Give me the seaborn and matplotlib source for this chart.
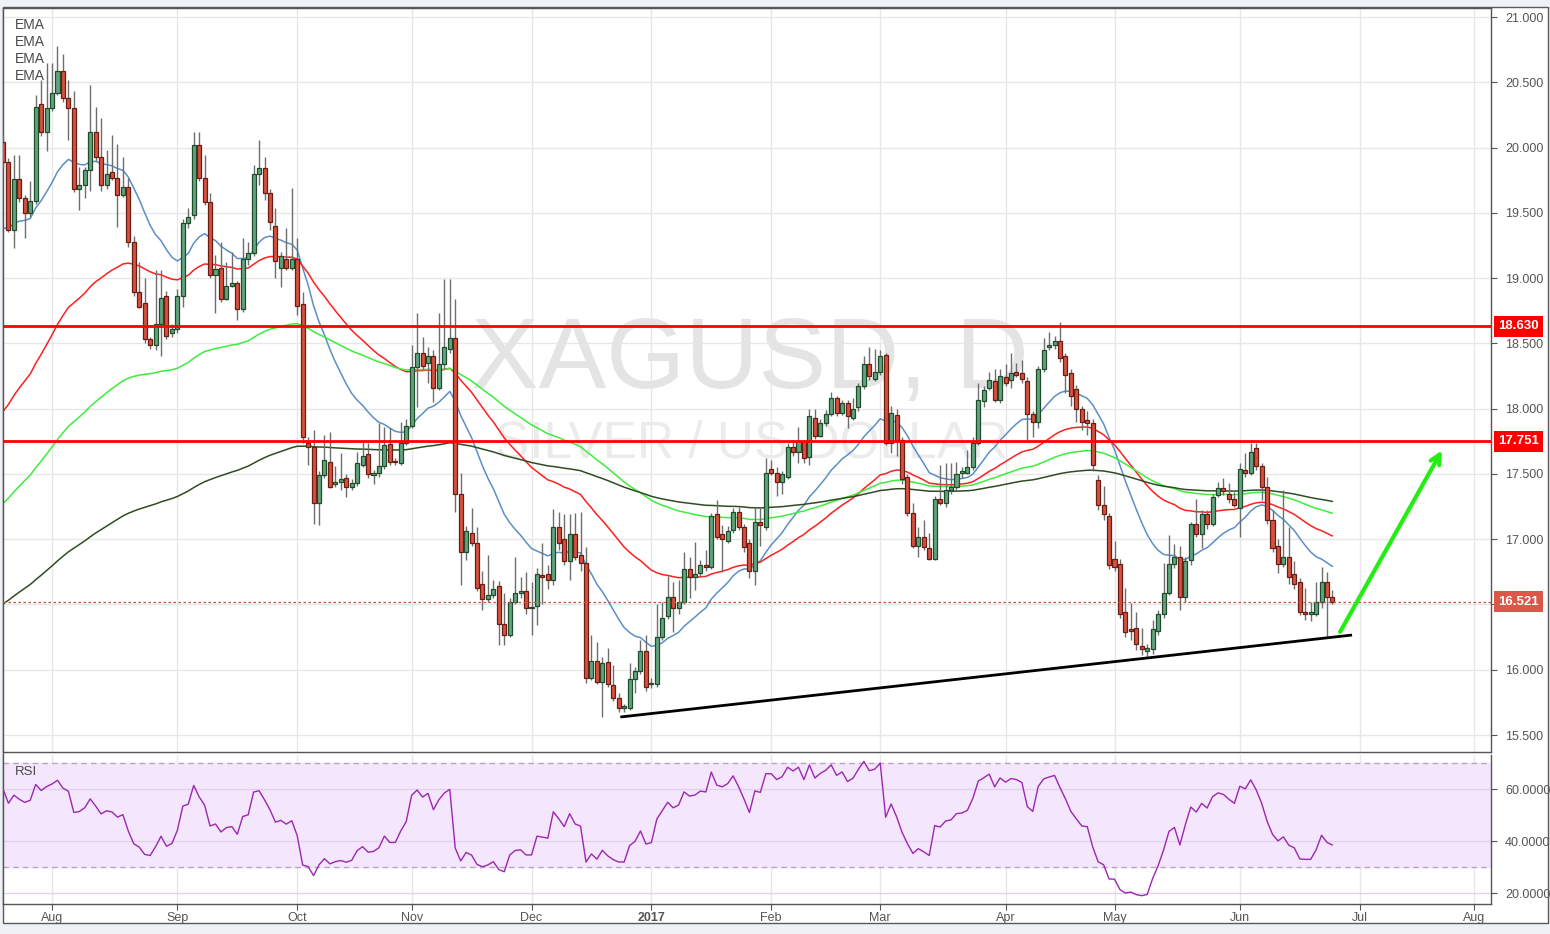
import numpy as np
import pandas as pd
import matplotlib
matplotlib.use('Agg')
import matplotlib.pyplot as plt
import matplotlib.transforms as mtrans
from matplotlib.patches import Rectangle
import seaborn as sns

# daily XAG/USD candles, 2016-07-19 .. 2017-06-26 (weekdays)
opens = [20.04, 19.89, 19.37, 19.76, 19.61, 19.50, 19.59, 20.33, 20.12, 20.30,
         20.42, 20.59, 20.38, 20.30, 19.68, 19.71, 19.83, 20.12, 19.93, 19.71,
         19.81, 19.77, 19.64, 19.70, 19.28, 18.89, 18.81, 18.53, 18.49, 18.65,
         18.86, 18.58, 18.61, 18.86, 19.42, 19.48, 20.02, 19.77, 19.58, 19.02,
         19.08, 18.84, 18.94, 18.96, 18.76, 19.15, 19.19, 19.80, 19.84, 19.65,
         19.40, 19.08, 19.15, 19.08, 19.15, 18.80, 17.74, 17.71, 17.28, 17.49,
         17.59, 17.42, 17.44, 17.47, 17.40, 17.43, 17.57, 17.65, 17.49, 17.51,
         17.56, 17.73, 17.60, 17.58, 17.74, 17.87, 18.32, 18.43, 18.35, 18.40,
         18.16, 18.34, 18.46, 18.54, 17.35, 16.90, 17.05, 16.97, 16.66, 16.54,
         16.57, 16.64, 16.35, 16.27, 16.52, 16.59, 16.60, 16.47, 16.49, 16.72,
         16.73, 16.69, 17.09, 17.00, 16.83, 17.04, 16.88, 16.82, 15.94, 16.07,
         15.91, 16.06, 15.88, 15.78, 15.71, 15.71, 15.93, 15.99, 16.14, 15.89,
         15.89, 16.25, 16.41, 16.56, 16.47, 16.52, 16.77, 16.71, 16.74, 16.80,
         16.79, 17.19, 17.04, 16.99, 17.07, 17.21, 17.09, 16.97, 16.76, 17.13,
         17.09, 17.54, 17.51, 17.44, 17.48, 17.71, 17.67, 17.75, 17.63, 17.93,
         17.79, 17.89, 17.96, 18.08, 17.97, 18.04, 17.93, 18.01, 18.17, 18.34,
         18.23, 18.28, 18.41, 17.74, 17.95, 17.76, 17.48, 17.20, 16.95, 17.02,
         16.93, 16.85, 17.31, 17.28, 17.38, 17.40, 17.51, 17.51, 17.55, 17.74,
         18.06, 18.16, 18.21, 18.07, 18.24, 18.22, 18.28, 18.27, 18.21, 17.96,
         17.90, 18.30, 18.47, 18.49, 18.52, 18.40, 18.27, 18.15, 18.00, 17.91,
         17.89, 17.45, 17.26, 17.18, 16.85, 16.81, 16.44, 16.31, 16.32, 16.18,
         16.14, 16.16, 16.30, 16.43, 16.59, 16.81, 16.86, 16.56, 16.84, 17.12,
         17.04, 17.19, 17.12, 17.34, 17.39, 17.35, 17.31, 17.24, 17.53, 17.51,
         17.70, 17.56, 17.40, 17.15, 16.95, 16.81, 16.86, 16.73, 16.67, 16.44,
         16.43, 16.43, 16.52, 16.67, 16.56]
highs = [20.10, 19.92, 19.94, 19.94, 19.64, 19.74, 20.40, 20.52, 20.65, 20.65,
         20.78, 20.72, 20.52, 20.43, 19.85, 19.85, 20.48, 20.31, 20.23, 19.98,
         20.10, 20.03, 19.93, 19.77, 19.32, 19.12, 19.00, 18.55, 19.06, 19.06,
         18.90, 18.65, 18.92, 19.45, 19.54, 20.12, 20.12, 19.94, 19.65, 19.18,
         19.28, 19.12, 19.20, 18.98, 19.31, 19.28, 19.87, 20.06, 19.93, 19.68,
         19.54, 19.20, 19.38, 19.69, 19.31, 18.89, 17.78, 17.84, 17.52, 17.80,
         17.82, 17.56, 17.66, 17.50, 17.46, 17.67, 17.76, 17.74, 17.53, 17.89,
         17.86, 17.85, 17.62, 17.90, 17.92, 18.49, 18.73, 18.55, 18.47, 18.45,
         18.73, 18.99, 18.99, 18.84, 17.51, 17.10, 17.24, 17.09, 16.76, 16.88,
         16.69, 16.68, 16.59, 16.55, 16.86, 16.71, 16.75, 16.67, 16.78, 16.97,
         16.80, 17.23, 17.21, 17.19, 17.19, 17.20, 17.21, 16.94, 16.27, 16.21,
         16.10, 16.17, 16.04, 15.82, 15.74, 16.05, 16.02, 16.23, 16.27, 15.94,
         16.50, 16.52, 16.72, 16.67, 16.69, 16.90, 16.86, 16.98, 16.84, 16.92,
         17.20, 17.30, 17.11, 17.10, 17.24, 17.25, 17.12, 17.00, 17.25, 17.25,
         17.62, 17.61, 17.55, 17.52, 17.74, 17.76, 17.86, 17.76, 18.00, 18.00,
         17.92, 17.99, 18.13, 18.10, 18.07, 18.07, 18.08, 18.20, 18.40, 18.47,
         18.46, 18.45, 18.43, 18.02, 18.00, 17.78, 17.50, 17.28, 17.09, 17.15,
         17.05, 17.33, 17.57, 17.58, 17.58, 17.59, 17.55, 17.68, 17.78, 18.20,
         18.17, 18.28, 18.30, 18.30, 18.34, 18.43, 18.35, 18.37, 18.24, 17.98,
         18.33, 18.54, 18.59, 18.56, 18.66, 18.43, 18.30, 18.18, 18.02, 17.98,
         17.92, 17.49, 17.41, 17.20, 16.99, 16.85, 16.63, 16.51, 16.44, 16.32,
         16.20, 16.38, 16.46, 16.82, 17.03, 16.96, 16.95, 16.86, 17.13, 17.31,
         17.22, 17.22, 17.35, 17.44, 17.47, 17.43, 17.36, 17.58, 17.66, 17.74,
         17.74, 17.58, 17.48, 17.22, 17.00, 17.38, 17.09, 16.83, 16.70, 16.63,
         16.52, 16.67, 16.79, 16.75, 16.61]
lows = [19.85, 19.35, 19.23, 19.58, 19.31, 19.47, 19.57, 20.09, 19.97, 20.28,
        20.40, 20.35, 20.06, 19.66, 19.52, 19.61, 19.67, 19.90, 19.67, 19.68,
        19.75, 19.39, 19.62, 19.24, 18.86, 18.77, 18.50, 18.46, 18.45, 18.40,
        18.53, 18.55, 18.58, 18.78, 19.38, 19.45, 19.74, 19.56, 19.00, 18.73,
        18.82, 18.83, 18.93, 18.68, 18.74, 19.10, 19.17, 19.71, 19.60, 19.37,
        19.00, 18.93, 19.06, 19.06, 18.72, 17.74, 17.57, 17.12, 17.11, 17.47,
        17.39, 17.40, 17.38, 17.32, 17.38, 17.41, 17.55, 17.47, 17.42, 17.48,
        17.54, 17.57, 17.57, 17.57, 17.72, 17.85, 18.01, 18.30, 18.20, 18.05,
        18.14, 18.30, 18.43, 17.21, 16.65, 16.84, 16.95, 16.60, 16.46, 16.52,
        16.55, 16.19, 16.19, 16.25, 16.50, 16.55, 16.43, 16.27, 16.34, 16.50,
        16.62, 16.65, 16.92, 16.80, 16.69, 16.84, 16.76, 15.90, 15.92, 15.89,
        15.64, 15.87, 15.76, 15.68, 15.68, 15.69, 15.82, 15.97, 15.84, 15.86,
        15.87, 16.23, 16.39, 16.29, 16.43, 16.50, 16.55, 16.61, 16.72, 16.76,
        16.77, 17.00, 16.75, 16.97, 17.05, 17.07, 16.90, 16.70, 16.65, 16.95,
        17.07, 17.49, 17.33, 17.35, 17.46, 17.64, 17.58, 17.58, 17.57, 17.77,
        17.78, 17.87, 17.94, 17.94, 17.95, 17.85, 17.91, 17.98, 18.15, 18.22,
        18.21, 18.26, 17.72, 17.66, 17.64, 17.42, 17.18, 16.93, 16.86, 16.92,
        16.84, 16.84, 17.26, 17.25, 17.35, 17.38, 17.47, 17.50, 17.53, 17.72,
        18.01, 18.14, 18.05, 18.04, 18.17, 18.16, 18.24, 18.20, 17.76, 17.78,
        17.85, 18.28, 18.45, 18.46, 18.36, 18.12, 18.02, 17.90, 17.84, 17.80,
        17.52, 17.22, 17.15, 16.77, 16.76, 16.40, 16.25, 16.23, 16.15, 16.11,
        16.09, 16.12, 16.27, 16.40, 16.57, 16.78, 16.46, 16.52, 16.80, 17.02,
        16.93, 17.08, 17.10, 17.32, 17.34, 17.28, 17.25, 17.02, 17.48, 17.49,
        17.53, 17.30, 17.12, 16.90, 16.74, 16.79, 16.66, 16.62, 16.42, 16.38,
        16.37, 16.41, 16.47, 16.25, 16.50]
closes = [19.89, 19.37, 19.76, 19.61, 19.50, 19.59, 20.31, 20.12, 20.30, 20.42,
          20.59, 20.38, 20.30, 19.68, 19.71, 19.83, 20.12, 19.93, 19.71, 19.80,
          19.77, 19.64, 19.70, 19.28, 18.89, 18.78, 18.53, 18.49, 18.65, 18.85,
          18.56, 18.61, 18.86, 19.42, 19.47, 20.02, 19.77, 19.58, 19.02, 19.07,
          18.84, 18.94, 18.96, 18.76, 19.15, 19.19, 19.80, 19.84, 19.65, 19.43,
          19.13, 19.17, 19.08, 19.15, 18.79, 17.78, 17.71, 17.28, 17.49, 17.61,
          17.40, 17.44, 17.46, 17.40, 17.43, 17.58, 17.64, 17.50, 17.51, 17.56,
          17.72, 17.59, 17.59, 17.74, 17.87, 18.32, 18.43, 18.33, 18.40, 18.16,
          18.34, 18.47, 18.54, 17.35, 16.90, 17.06, 16.97, 16.63, 16.54, 16.57,
          16.62, 16.35, 16.27, 16.52, 16.59, 16.60, 16.47, 16.47, 16.73, 16.71,
          16.69, 17.09, 16.97, 16.83, 17.04, 16.86, 16.82, 15.94, 16.07, 15.91,
          16.05, 15.89, 15.78, 15.71, 15.71, 15.93, 15.99, 16.14, 15.87, 15.89,
          16.25, 16.40, 16.56, 16.47, 16.52, 16.77, 16.71, 16.73, 16.80, 16.79,
          17.18, 17.02, 17.00, 17.06, 17.21, 17.09, 16.94, 16.76, 17.13, 17.11,
          17.51, 17.51, 17.44, 17.50, 17.71, 17.67, 17.75, 17.62, 17.94, 17.79,
          17.89, 17.96, 18.08, 17.97, 18.04, 17.94, 18.00, 18.17, 18.34, 18.25,
          18.28, 18.40, 17.74, 17.97, 17.76, 17.46, 17.20, 16.95, 17.02, 16.94,
          16.85, 17.31, 17.28, 17.38, 17.40, 17.50, 17.51, 17.55, 17.74, 18.07,
          18.14, 18.22, 18.07, 18.25, 18.20, 18.27, 18.26, 18.23, 17.96, 17.90,
          18.30, 18.45, 18.49, 18.52, 18.39, 18.26, 18.10, 18.00, 17.90, 17.89,
          17.57, 17.26, 17.19, 16.80, 16.79, 16.43, 16.29, 16.30, 16.20, 16.16,
          16.17, 16.31, 16.43, 16.59, 16.81, 16.86, 16.56, 16.83, 17.12, 17.04,
          17.19, 17.12, 17.32, 17.39, 17.37, 17.31, 17.26, 17.54, 17.51, 17.67,
          17.56, 17.40, 17.15, 16.93, 16.81, 16.86, 16.71, 16.66, 16.44, 16.43,
          16.43, 16.52, 16.67, 16.56, 16.52]

# indicator state carried in from before the visible window
ema_spans = [20, 50, 100, 200]
ema_seeds = [19.33, 17.90, 17.22, 16.47]
ema_colors = ['#5b8fc6', '#ff1f1f', '#3ded3d', '#2f4c22']
rsi_seed_gain, rsi_seed_loss = 0.24, 0.16

levels = [18.630, 17.751]
last_price = 16.521
trend_pts = [(113.3, 15.638), (247.6, 16.266)]
arrow_pts = [(245.4, 16.29), (264.1, 17.68)]

price_ticks = np.arange(15.5, 21.01, 0.5)
rsi_ticks = [20, 40, 60]

n = len(closes)
dates = pd.bdate_range('2016-07-19', periods=275)
month_idx = [i for i in range(1, len(dates)) if dates[i].month != dates[i - 1].month]
month_lab = ['2017' if dates[i].month == 1 else dates[i].strftime('%b') for i in month_idx]


def ema(vals, span, start):
    a = 2.0 / (span + 1)
    e = start
    out = []
    for v in vals:
        e = e + a * (v - e)
        out.append(e)
    return np.array(out)


def rsi(vals, g0, l0, period=14):
    g, l = g0, l0
    out = [100 * g / (g + l)]
    for i in range(1, len(vals)):
        ch = vals[i] - vals[i - 1]
        g = (g * (period - 1) + max(ch, 0)) / period
        l = (l * (period - 1) + max(-ch, 0)) / period
        out.append(100 * g / (g + l))
    return np.array(out)


df = pd.DataFrame({'i': np.arange(n), 'open': opens, 'high': highs,
                   'low': lows, 'close': closes})
for sp, sd in zip(ema_spans, ema_seeds):
    df['ema%d' % sp] = ema(df['close'].values, sp, sd)
df['rsi'] = rsi(df['close'].values, rsi_seed_gain, rsi_seed_loss)

sns.set_style('white')
plt.rcParams['font.family'] = ['Liberation Sans', 'DejaVu Sans']

W, H = 1550, 934
fig = plt.figure(figsize=(W / 100, H / 100), dpi=100, facecolor='#eef2f6')
fig.patches.append(Rectangle((3 / W, 11 / H), 1545 / W, 916 / H, transform=fig.transFigure,
                             facecolor='white', edgecolor='#5a5a5a', lw=1, zorder=-5))
ax = fig.add_axes([3 / W, 182 / H, 1488 / W, 744 / H])
ax2 = fig.add_axes([3 / W, 30 / H, 1488 / W, 149 / H], sharex=ax)

grid_c = '#e7e7e7'
for a in (ax, ax2):
    a.set_facecolor('white')
    for xm in month_idx:
        a.axvline(xm, color=grid_c, lw=1, zorder=0)
    for s in a.spines.values():
        s.set_color('#555555')
        s.set_linewidth(1)
ax2.spines['top'].set_visible(False)

# watermark
ax.text(750 / W, 1 - 388 / H, 'XAGUSD, D', transform=fig.transFigure, ha='center',
        va='baseline', fontsize=73, color='#e4e4e4', zorder=0.5)
ax.text(752 / W, 1 - 458 / H, 'SILVER / US DOLLAR', transform=fig.transFigure, ha='center',
        va='baseline', fontsize=37, color='#ebebeb', zorder=0.5)

for p in price_ticks:
    ax.axhline(p, color=grid_c, lw=1, zorder=0)

# EMAs
for sp, col in zip(ema_spans, ema_colors):
    sns.lineplot(data=df, x='i', y='ema%d' % sp, ax=ax, color=col, lw=1.1, legend=False, zorder=2)

# candles
up = df['close'] >= df['open']
ax.vlines(df['i'], df['low'], df['high'], color='#6e6e6e', lw=1, zorder=3)
body_lo = np.minimum(df['open'], df['close'])
body_h = np.maximum(np.abs(df['close'] - df['open']), 0.012)
ax.bar(df['i'][up], body_h[up], bottom=body_lo[up], width=0.74, color='#62a47e',
       edgecolor='#1f4d2c', lw=0.9, zorder=4)
ax.bar(df['i'][~up], body_h[~up], bottom=body_lo[~up], width=0.74, color='#d6513e',
       edgecolor='#6b1d14', lw=0.9, zorder=4)

# levels and drawings
for lv in levels:
    ax.axhline(lv, color='#ff0000', lw=2, zorder=5)
ax.axhline(last_price, color='#c8503e', lw=0.9, ls=(0, (2, 2)), zorder=5)
ax.plot([trend_pts[0][0], trend_pts[1][0]], [trend_pts[0][1], trend_pts[1][1]],
        color='black', lw=2, zorder=6, solid_capstyle='butt')
ax.annotate('', xy=arrow_pts[1], xytext=arrow_pts[0], zorder=6,
            arrowprops=dict(arrowstyle='->,head_length=0.7,head_width=0.35',
                            color='#22ee11', lw=3, shrinkA=0, shrinkB=0))

ax.set_xlim(0, 273.1)
ax.set_ylim(15.370, 21.069)
ax.yaxis.tick_right()
ax.set_yticks(price_ticks)
# the 16.500 label sits under the last-price box in the reference
ax.set_yticklabels(['' if abs(p - 16.5) < 1e-6 else '%.3f' % p for p in price_ticks])
ax.tick_params(axis='y', right=True, length=4, pad=6, color='#555555', labelsize=9,
               labelcolor='#555555')
ax.tick_params(axis='x', bottom=False, labelbottom=False)
ax.set_xlabel('')
ax.set_ylabel('')

tr = mtrans.blended_transform_factory(ax.transAxes, ax.transData)
for lv, fc in [(18.630, '#ff0000'), (17.751, '#ff0000'), (last_price, '#d9584a')]:
    ax.text(1.0186, lv, '%.3f' % lv, transform=tr, ha='center', va='center', color='white',
            fontsize=9.5, fontweight='bold', clip_on=False, zorder=10,
            bbox=dict(boxstyle='square,pad=0.33', fc=fc, ec='none'))

for k in range(4):
    ax.text(12 / 1488, 1 - (24 + 17 * k - 7) / 744, 'EMA', transform=ax.transAxes,
            ha='left', va='center', fontsize=10, color='#4a4a4a', zorder=10)

# RSI panel
ax2.axhspan(30, 70, color='#f4e6fc', zorder=0)
for r in rsi_ticks:
    ax2.axhline(r, color='#e0d2e8', lw=1, zorder=0.5)
for r in (30, 70):
    ax2.axhline(r, color='#b9a3c9', lw=1, ls=(0, (4, 3)), zorder=1)
sns.lineplot(data=df, x='i', y='rsi', ax=ax2, color='#9c27b0', lw=1.0, legend=False, zorder=3)
ax2.set_ylim(15.8, 73.1)
ax2.yaxis.tick_right()
ax2.set_yticks(rsi_ticks)
ax2.set_yticklabels(['%.4f' % r for r in rsi_ticks])
ax2.tick_params(axis='y', right=True, length=4, pad=6, color='#555555', labelsize=9,
                labelcolor='#555555')
ax2.set_xticks(month_idx)
ax2.set_xticklabels(month_lab)
ax2.tick_params(axis='x', bottom=True, length=4, pad=2, color='#555555', labelsize=9,
                labelcolor='#555555')
for lab in ax2.get_xticklabels():
    if lab.get_text() == '2017':
        lab.set_fontweight('bold')
ax2.set_xlabel('')
ax2.set_ylabel('')
ax2.text(12 / 1488, 1 - 17 / 149, 'RSI', transform=ax2.transAxes, ha='left', va='center',
         fontsize=9.5, color='#4a4a4a', zorder=10)

fig.savefig('out.png', dpi=100, facecolor=fig.get_facecolor())
